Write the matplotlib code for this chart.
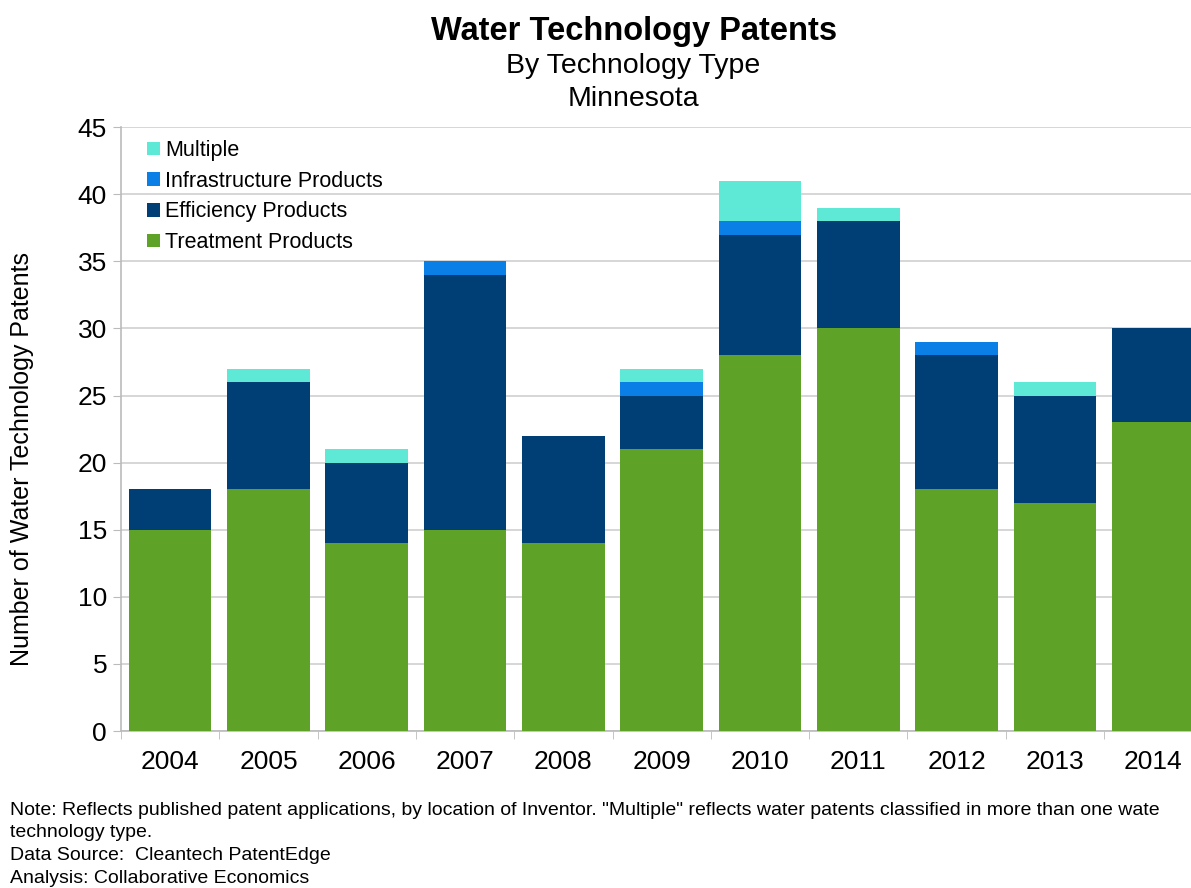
import matplotlib.pyplot as plt
import numpy as np

plt.rcParams['font.family'] = ['Liberation Sans', 'DejaVu Sans']

years = ['2004', '2005', '2006', '2007', '2008', '2009', '2010', '2011', '2012', '2013', '2014']
treatment = [15, 18, 14, 15, 14, 21, 28, 30, 18, 17, 23]
efficiency = [3, 8, 6, 19, 8, 4, 9, 8, 10, 8, 7]
infrastructure = [0, 0, 0, 1, 0, 1, 1, 0, 1, 0, 0]
multiple = [0, 1, 1, 0, 0, 1, 3, 1, 0, 1, 0]

series = [
    ('Treatment Products', treatment, '#5fa228'),
    ('Efficiency Products', efficiency, '#003f75'),
    ('Infrastructure Products', infrastructure, '#0a80e6'),
    ('Multiple', multiple, '#5ee8d6'),
]

note_lines = [
    'Note: Reflects published patent applications, by location of Inventor. "Multiple" reflects water patents classified in more than one wate',
    'technology type.',
    'Data Source:  Cleantech PatentEdge',
    'Analysis: Collaborative Economics',
]

fig = plt.figure(figsize=(11.91, 8.88), dpi=100)
ax = fig.add_axes([0.1016, 0.1768, 0.908, 0.680])

x = np.arange(len(years))
bottom = np.zeros(len(years))
handles = []
for name, vals, color in series:
    b = ax.bar(x, vals, width=0.84, bottom=bottom, color=color, label=name, zorder=3)
    handles.append(b)
    bottom += np.array(vals)

ax.set_xlim(-0.5, len(years) - 0.5)
ax.set_ylim(0, 45)
ax.set_yticks(range(0, 46, 5))
ax.yaxis.grid(True, color='#d0d0d0', linewidth=1.2, zorder=0)
ax.set_xticks(x)
ax.set_xticklabels(years, fontsize=19)
ax.tick_params(axis='x', length=0, pad=14)
ax.set_xticks(np.arange(-0.5, len(years), 1), minor=True)
ax.tick_params(axis='x', which='minor', length=6, color='#bbbbbb', direction='out')
ax.tick_params(axis='y', labelsize=19, length=6, color='#bbbbbb', direction='out', pad=4)
for s in ['top', 'right']:
    ax.spines[s].set_visible(False)
for s in ['left', 'bottom']:
    ax.spines[s].set_color('#bbbbbb')
    ax.spines[s].set_linewidth(1.2)

# y label sits a bit lower than the axis centre in the original
fig.text(22 / 1191, 1 - 459 / 888, 'Number of Water Technology Patents', rotation=90,
         ha='center', va='center', fontsize=18)

leg = ax.legend(handles[::-1], [h.get_label() for h in handles[::-1]], loc='upper left',
                bbox_to_anchor=(0.012, 1.0), frameon=False, fontsize=15.5,
                handlelength=0.6, handleheight=0.6, handletextpad=0.25, labelspacing=0.45,
                borderaxespad=0.2)

fig.text(0.532, 0.965, 'Water Technology Patents', ha='center', va='center', fontsize=23.5, fontweight='bold')
fig.text(0.532, 0.926, 'By Technology Type', ha='center', va='center', fontsize=20.5)
fig.text(0.532, 0.889, 'Minnesota', ha='center', va='center', fontsize=20.5)

# note block, one line at a time
for i, line in enumerate(note_lines):
    y_px = 810 + i * 22.7
    fig.text(0.008, 1 - y_px / 888, line, ha='left', va='center', fontsize=14)

fig.savefig('out.png', dpi=100)
